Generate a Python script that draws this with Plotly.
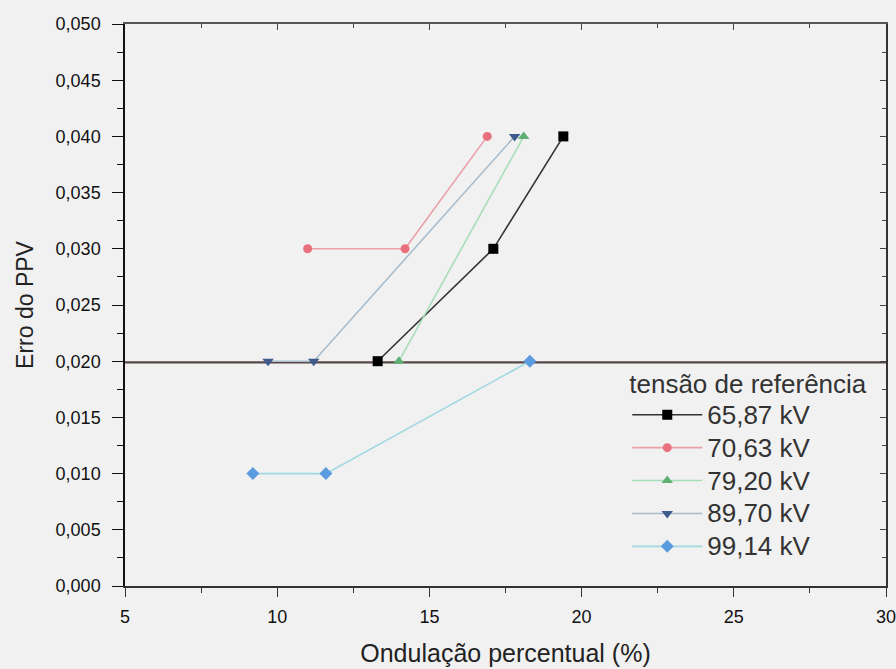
import plotly.graph_objects as go

# Ripple percentage (%) vs PPV error for each reference voltage
labels = ["65,87 kV", "70,63 kV", "79,20 kV", "89,70 kV", "99,14 kV"]

x_6587 = [13.3, 17.1, 19.4]
y_6587 = [0.020, 0.030, 0.040]

x_7063 = [11.0, 14.2, 16.9]
y_7063 = [0.030, 0.030, 0.040]

x_7920 = [14.0, 18.1]
y_7920 = [0.020, 0.040]

x_8970 = [9.7, 11.2, 17.8]
y_8970 = [0.020, 0.020, 0.040]

x_9914 = [9.2, 11.6, 18.3]
y_9914 = [0.010, 0.010, 0.020]

# Horizontal limit line
limit_x = [5, 30]
limit_y = [0.0199, 0.0199]

xs = [x_6587, x_7063, x_7920, x_8970, x_9914]
ys = [y_6587, y_7063, y_7920, y_8970, y_9914]

marker_colors = ["#000000", "#e8707c", "#5fae72", "#3f5a8c", "#5b9be0"]
line_colors = ["#333333", "#eaa0a8", "#a8dcb8", "#a8bccb", "#a2d8e2"]
symbols = ["square", "circle", "triangle-up", "triangle-down", "diamond"]
msizes = [10, 9, 10, 10, 10]

fig = go.Figure()

fig.add_trace(go.Scatter(
    x=limit_x, y=limit_y, mode="lines",
    line=dict(color="#5a4848", width=2.2),
    showlegend=False, hoverinfo="skip",
))

for lab, x, y, mc, lc, sym, ms in zip(labels, xs, ys, marker_colors, line_colors, symbols, msizes):
    fig.add_trace(go.Scatter(
        x=x, y=y, mode="lines+markers",
        name=f'<span style="font-size:26px">{lab}</span>',
        line=dict(color=lc, width=1.6),
        marker=dict(color=mc, symbol=sym, size=ms),
    ))

FONT = "Liberation Sans, Arial, sans-serif"
tick_font = dict(family=FONT, size=18, color="#111111")

fig.update_layout(
    width=896, height=669,
    margin=dict(l=125, r=10, t=24, b=83),
    paper_bgcolor="#f1f1f1",
    plot_bgcolor="#f1f1f1",
    separators=",.",
    font=dict(family=FONT, color="#222222"),
    xaxis=dict(
        range=[5, 30], tickvals=[5, 10, 15, 20, 25, 30],
        showgrid=False, zeroline=False, automargin=False,
        showline=True, linecolor="#333333", linewidth=1.5,
        ticks="outside", ticklen=9, tickwidth=1.2, tickcolor="#333333",
        minor=dict(ticks="outside", dtick=2.5, tick0=5, ticklen=5, tickcolor="#333333"),
        tickfont=tick_font, ticklabelstandoff=5, ticklabeloverflow="allow",
        title=dict(text="Ondulação percentual (%)",
                   font=dict(size=25, color="#222222"), standoff=18),
    ),
    yaxis=dict(
        range=[0, 0.05], dtick=0.005, tickformat=".3f",
        showgrid=False, zeroline=False, automargin=False,
        showline=True, linecolor="#111111", linewidth=1.5,
        ticks="outside", ticklen=11, tickwidth=1.2, tickcolor="#111111",
        minor=dict(ticks="outside", dtick=0.0025, ticklen=6, tickcolor="#111111"),
        tickfont=tick_font, ticklabelstandoff=8, ticklabeloverflow="allow",
        title=dict(text="Erro do PPV", font=dict(size=23, color="#222222"), standoff=16),
    ),
    xaxis2=dict(
        overlaying="x", side="top", matches="x", range=[5, 30],
        showgrid=False, zeroline=False, showticklabels=False,
        showline=True, linecolor="#555555", linewidth=1.5,
        ticks="inside", ticklen=6, tickvals=[5, 10, 15, 20, 25, 30],
        minor=dict(ticks="inside", dtick=2.5, tick0=5, ticklen=4),
    ),
    yaxis2=dict(
        overlaying="y", side="right", matches="y", range=[0, 0.05],
        showgrid=False, zeroline=False, showticklabels=False,
        showline=True, linecolor="#333333", linewidth=1.5,
        ticks="inside", ticklen=6, dtick=0.005,
        minor=dict(ticks="inside", dtick=0.0025, ticklen=4),
    ),
    legend=dict(
        title=dict(text="tensão de referência", font=dict(size=26, color="#333333")),
        font=dict(size=23, color="#333333"),
        x=0.660, y=0.403, xanchor="left", yanchor="top",
        bgcolor="rgba(0,0,0,0)", tracegroupgap=0, itemwidth=70,
    ),
)

# Anchor an invisible trace to the mirrored axes so they are drawn
fig.add_trace(go.Scatter(x=[None], y=[None], xaxis="x2", yaxis="y2",
                         showlegend=False, hoverinfo="skip"))

fig.write_html("out.html")
